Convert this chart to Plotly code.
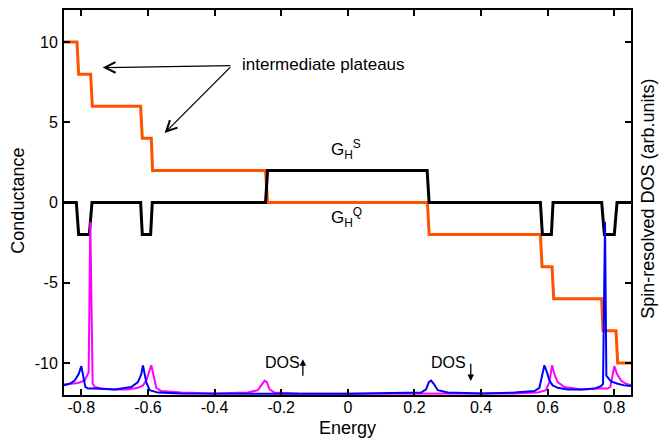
import plotly.graph_objects as go

# --- Conductance step curves ---
gq_E = [-0.852, -0.813, -0.808, -0.772, -0.767, -0.622, -0.617, -0.590, -0.586,
        -0.247, -0.241, 0.239, 0.244, 0.578, 0.583, 0.613, 0.618, 0.762, 0.766,
        0.805, 0.810, 0.852]
gq_G = [10, 10, 8, 8, 6, 6, 4, 4, 2,
        2, 0, 0, -2, -2, -4, -4, -6, -6, -8,
        -8, -10, -10]

gs_E = [-0.852, -0.815, -0.808, -0.776, -0.768, -0.622, -0.617, -0.592, -0.587,
        -0.247, -0.241, 0.238, 0.244, 0.578, 0.584, 0.611, 0.616, 0.762, 0.770,
        0.800, 0.808, 0.852]
gs_G = [0, 0, -2, -2, 0, 0, -2, -2, 0,
        0, 2, 2, 0, 0, -2, -2, 0, 0, -2,
        -2, 0, 0]

# --- Spin-resolved DOS (plotted on the same vertical scale, arb. units) ---
up_E = [-0.852, -0.83, -0.81, -0.79, -0.785, -0.778, -0.773, -0.766, -0.76, -0.74,
        -0.70, -0.66, -0.63, -0.615, -0.605, -0.598, -0.59, -0.583, -0.575, -0.56,
        -0.50, -0.40, -0.30, -0.27, -0.258, -0.25, -0.243, -0.235, -0.22, -0.15,
        0.0, 0.2, 0.4, 0.5, 0.57, 0.595, 0.605, 0.613, 0.62, 0.63,
        0.65, 0.70, 0.76, 0.78, 0.788, 0.795, 0.80, 0.808, 0.82, 0.835, 0.852]
up_D = [-11.35, -11.3, -11.25, -11.1, -10.9, -10.6, -1.2, -11.3, -11.5, -11.6,
        -11.65, -11.65, -11.55, -11.4, -11.1, -10.6, -10.15, -10.8, -11.55, -11.75,
        -11.85, -11.9, -11.85, -11.7, -11.3, -11.1, -11.2, -11.65, -11.85, -11.9,
        -11.92, -11.92, -11.92, -11.9, -11.85, -11.7, -11.2, -10.15, -10.7, -11.2,
        -11.5, -11.65, -11.6, -11.6, -11.5, -10.8, -10.2, -10.7, -11.1, -11.3, -11.4]

dn_E = [-0.852, -0.835, -0.82, -0.808, -0.80, -0.795, -0.788, -0.78, -0.76, -0.70,
        -0.65, -0.63, -0.62, -0.615, -0.605, -0.595, -0.57, -0.50, -0.40, -0.20,
        0.0, 0.15, 0.22, 0.235, 0.243, 0.25, 0.258, 0.27, 0.30, 0.40,
        0.50, 0.56, 0.575, 0.583, 0.59, 0.598, 0.605, 0.615, 0.63, 0.66,
        0.70, 0.74, 0.76, 0.766, 0.772, 0.776, 0.785, 0.79, 0.81, 0.83, 0.852]
dn_D = [-11.4, -11.3, -11.1, -10.7, -10.2, -10.8, -11.5, -11.6, -11.6, -11.65,
        -11.5, -11.2, -10.7, -10.15, -11.2, -11.7, -11.85, -11.9, -11.92, -11.92,
        -11.92, -11.9, -11.85, -11.65, -11.2, -11.1, -11.3, -11.7, -11.85, -11.9,
        -11.85, -11.75, -11.55, -10.8, -10.15, -10.6, -11.1, -11.4, -11.55, -11.65,
        -11.65, -11.6, -11.45, -11.3, -1.2, -10.8, -11.0, -11.15, -11.3, -11.4, -11.45]

x_ticks = [-0.8, -0.6, -0.4, -0.2, 0, 0.2, 0.4, 0.6, 0.8]
x_ticktext = ["-0.8", "-0.6", "-0.4", "-0.2", "0", "0.2", "0.4", "0.6", "0.8"]
y_ticks = [-10, -5, 0, 5, 10]
y_ticktext = ["-10", "-5", "0", "5", "10"]

FONT = "Liberation Sans, Arial, Helvetica, sans-serif"

fig = go.Figure()
fig.add_trace(go.Scatter(x=gq_E, y=gq_G, mode="lines",
                         line=dict(color="#ff5200", width=3), showlegend=False))
fig.add_trace(go.Scatter(x=gs_E, y=gs_G, mode="lines",
                         line=dict(color="#000000", width=3), showlegend=False))
fig.add_trace(go.Scatter(x=up_E, y=up_D, mode="lines",
                         line=dict(color="#ff00ff", width=2), showlegend=False))
fig.add_trace(go.Scatter(x=dn_E, y=dn_D, mode="lines",
                         line=dict(color="#0000ff", width=2), showlegend=False))

axis_common = dict(showline=True, linewidth=2, linecolor="black", mirror="ticks",
                   ticks="inside", ticklen=6, tickwidth=1.5, tickcolor="black",
                   showgrid=False, zeroline=False,
                   tickfont=dict(family=FONT, size=16, color="black"))

fig.update_xaxes(range=[-0.852, 0.85], tickvals=x_ticks, ticktext=x_ticktext,
                 ticklabelstandoff=-3, **axis_common)
fig.update_yaxes(range=[-12, 12], tickvals=y_ticks, ticktext=y_ticktext,
                 ticklabelstandoff=1, **axis_common)

ann = []
# axis titles
ann.append(dict(text="Energy", xref="paper", yref="paper", x=0.5, y=-0.086,
                showarrow=False, font=dict(family=FONT, size=18, color="black"),
                xanchor="center", yanchor="middle"))
ann.append(dict(text="Conductance", xref="paper", yref="paper", x=-0.081, y=0.505,
                showarrow=False, textangle=-90,
                font=dict(family=FONT, size=18, color="black"),
                xanchor="center", yanchor="middle"))
ann.append(dict(text="Spin-resolved DOS (arb.units)", xref="paper", yref="paper",
                x=1.03, y=0.51, showarrow=False, textangle=-90,
                font=dict(family=FONT, size=18, color="black"),
                xanchor="center", yanchor="middle"))
# intermediate plateaus
ann.append(dict(text="intermediate plateaus", x=-0.323, y=8.6, xref="x", yref="y",
                showarrow=False, xanchor="left", yanchor="middle",
                font=dict(family=FONT, size=17, color="black")))
for tip in [(-0.736, 8.41), (-0.55, 4.33)]:
    ann.append(dict(text="", x=tip[0], y=tip[1], ax=-0.348, ay=8.53,
                    xref="x", yref="y", axref="x", ayref="y",
                    showarrow=True, arrowhead=5, arrowsize=1.6, arrowwidth=1.3,
                    arrowcolor="black", standoff=0, startstandoff=0))
# G labels
ann.append(dict(text="G<sub>H</sub><sup>S</sup>", x=-0.005, y=3.3, xref="x", yref="y",
                showarrow=False, font=dict(family=FONT, size=17, color="black")))
ann.append(dict(text="G<sub>H</sub><sup>Q</sup>", x=-0.005, y=-0.95, xref="x", yref="y",
                showarrow=False, font=dict(family=FONT, size=17, color="black")))
# DOS labels
ann.append(dict(text="DOS", x=-0.196, y=-9.96, xref="x", yref="y",
                showarrow=False, font=dict(family=FONT, size=16, color="black")))
ann.append(dict(text="DOS", x=0.302, y=-9.96, xref="x", yref="y",
                showarrow=False, font=dict(family=FONT, size=16, color="black")))
ann.append(dict(text="", x=-0.135, y=-9.77, ax=-0.135, ay=-10.9,
                xref="x", yref="y", axref="x", ayref="y", showarrow=True,
                arrowhead=2, arrowsize=1.0, arrowwidth=1.3, arrowcolor="black",
                standoff=0, startstandoff=0))
ann.append(dict(text="", x=0.369, y=-11.13, ax=0.369, ay=-9.96,
                xref="x", yref="y", axref="x", ayref="y", showarrow=True,
                arrowhead=2, arrowsize=1.0, arrowwidth=1.3, arrowcolor="black",
                standoff=0, startstandoff=0))

fig.update_layout(width=660, height=439, margin=dict(l=64, r=29, t=8, b=44),
                  paper_bgcolor="white", plot_bgcolor="white",
                  annotations=ann, font=dict(family=FONT, color="black"))

fig.write_html("out.html")
